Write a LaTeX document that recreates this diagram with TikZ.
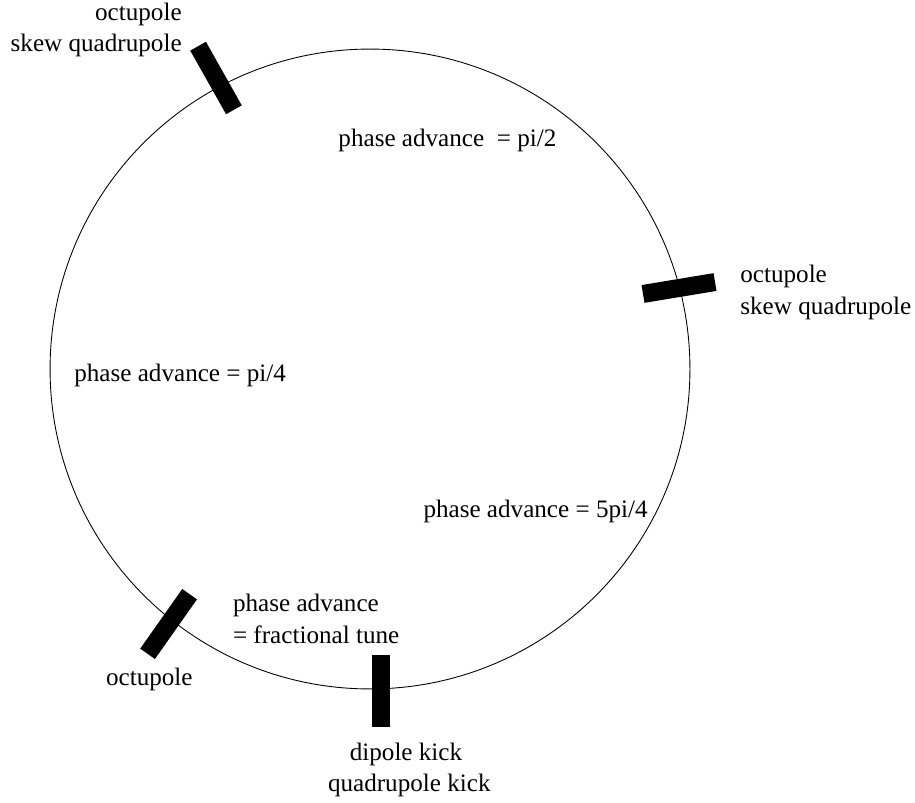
\documentclass[tikz,border=0pt]{standalone}
\usepackage{fontspec}
\setmainfont{Liberation Serif}

\begin{document}
\begin{tikzpicture}[x=0.02cm, y=-0.02cm,
	magnet/.style={fill=black, inner sep=0pt, minimum width=1.46cm, minimum height=0.36cm},
	lbl/.style={inner sep=0pt, font=\fontsize{14.3}{17.6}\selectfont}]
			%%%%% START %%%%%
			\useasboundingbox (0, 0) rectangle (915, 803);
			
			% ring
			\draw[line width=0.5pt] (370, 369) circle (6.4cm);
			
			% magnets
			\node[magnet, rotate=119.4] (skewtop) at (216, 78) {};
			\node[magnet, rotate=9.4] (skewright) at (679, 288) {};
			\node[magnet, rotate=54.8] (octleft) at (168.6, 624) {};
			\node[magnet, rotate=90] (kick) at (380.5, 691) {};
			
			% magnet labels
			\node[lbl, anchor=base east] (octtop) at (182, 21) {octupole};
			\node[lbl, anchor=base east] (sqtop) at (182, 52) {skew quadrupole};
			\node[lbl, anchor=base west] (octright) at (740, 283) {octupole};
			\node[lbl, anchor=base west] (sqright) at (740, 315) {skew quadrupole};
			\node[lbl, anchor=base west] (octbot) at (105.7, 685) {octupole};
			\node[lbl, anchor=base] (dipole) at (406, 760) {dipole kick};
			\node[lbl, anchor=base] (quadkick) at (409.3, 791) {quadrupole kick};
			
			% phase advances
			\node[lbl, anchor=base east] (phtwo) at (556.7, 146.7) {phase advance\ \ = pi/2};
			\node[lbl, anchor=base west] (phfour) at (74, 381.7) {phase advance = pi/4};
			\node[lbl, anchor=base east] (phfive) at (648, 517) {phase advance = 5pi/4};
			\node[lbl, anchor=base west] (phtune) at (232.7, 611.7) {phase advance};
			\node[lbl, anchor=base west] (phtunetwo) at (232.7, 643.3) {= fractional tune};
			%%%%% END %%%%%
\end{tikzpicture}
\end{document}
